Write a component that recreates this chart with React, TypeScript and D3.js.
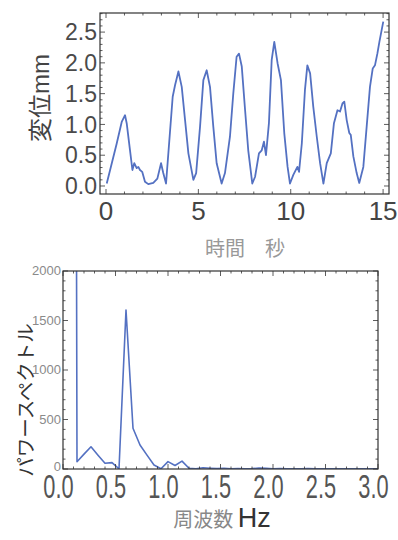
import React from "react";
import * as d3 from "d3";

// ---- top chart data: displacement (mm) vs time (s)
const timeS = [0.04,0.58,0.85,1.03,1.12,1.3,1.43,1.53,1.66,1.75,1.84,1.96,2.11,2.29,2.56,2.78,2.98,3.1,3.25,3.61,3.74,3.92,4.1,4.28,4.46,4.73,4.88,5.09,5.27,5.45,5.63,5.81,5.99,6.26,6.44,6.71,6.89,7.07,7.2,7.35,7.53,7.7,7.92,8.07,8.28,8.43,8.55,8.66,8.82,8.97,9.11,9.29,9.47,9.65,9.83,9.96,10.14,10.36,10.45,10.6,10.77,10.9,11.05,11.22,11.41,11.59,11.77,11.95,12.17,12.34,12.53,12.67,12.8,12.9,13.03,13.17,13.25,13.39,13.57,13.71,13.93,14.11,14.29,14.44,14.56,14.69,14.8,15.01];
const dispMm = [0.04,0.69,1.04,1.15,1.02,0.58,0.26,0.37,0.29,0.31,0.26,0.23,0.07,0.03,0.05,0.12,0.37,0.21,0.04,1.45,1.64,1.86,1.61,1.07,0.53,0.1,0.21,0.96,1.72,1.88,1.61,0.96,0.37,0.04,0.21,0.8,1.5,2.1,2.15,1.94,1.23,0.58,0.04,0.15,0.53,0.58,0.72,0.5,1.02,2.05,2.34,1.99,1.72,0.86,0.31,0.04,0.18,0.31,0.23,0.69,1.56,1.96,1.83,1.29,0.8,0.37,0.04,0.37,0.53,1.02,1.23,1.21,1.34,1.37,1.07,0.86,0.83,0.48,0.21,0.05,0.31,0.96,1.61,1.91,1.96,2.15,2.34,2.67];
const timeTicks = [0, 5, 10, 15];
const dispTicks = [0, 0.5, 1, 1.5, 2, 2.5];

// ---- bottom chart data: power spectrum, frequency step 1/15 Hz
const powerVals = [40000,30000,74,150,225,140,58,64,2,1606,411,242,140,40,3,74,35,80,8,3,12,8,4,6,3,5,2,4,10,6,3,4,2,3,2,5,2,3,2,2,3,2,2,3,2,2];
const freqStep = 1 / 15;
const freqTicks = [0, 0.5, 1, 1.5, 2, 2.5, 3];
const powerTicks = [0, 500, 1000, 1500, 2000];

const LINE = "#5471c2";

export default function App() {
  // top chart scales
  const tx = d3.scaleLinear().domain([-0.325, 15.32]).range([100, 389]);
  const ty = d3.scaleLinear().domain([-0.13, 2.81]).range([194, 13]);
  const topLine = d3.line<number>().x((_, i) => tx(timeS[i])).y((d) => ty(d));

  // bottom chart scales
  const bx = d3.scaleLinear().domain([0, 3]).range([63, 378]);
  const by = d3.scaleLinear().domain([0, 2000]).range([469, 271]);
  const botLine = d3.line<number>().x((_, i) => bx(i * freqStep)).y((d) => by(d));

  const topMinorX = d3.range(0, 16, 1).filter((v) => v % 5 !== 0);
  const topMinorY = d3.range(0, 2.81, 0.1).filter((v) => Math.abs(v * 2 - Math.round(v * 2)) > 1e-6);
  const botMinorX = d3.range(0, 3.0001, 0.1).filter((v) => Math.abs(v * 2 - Math.round(v * 2)) > 1e-6);
  const botMinorY = d3.range(0, 2001, 100).filter((v) => v % 500 !== 0);

  const frameTicks = (
    xs: d3.ScaleLinear<number, number>,
    ys: d3.ScaleLinear<number, number>,
    majX: number[], minX: number[], majY: number[], minY: number[]
  ) => {
    const [x0, x1] = xs.range();
    const [y0, y1] = ys.range();
    const out: React.ReactNode[] = [];
    const add = (list: number[], len: number, key: string) => {
      list.forEach((v, i) => {
        const x = xs(v);
        out.push(<line key={key + "b" + i} x1={x} x2={x} y1={y0} y2={y0 - len} />);
        out.push(<line key={key + "t" + i} x1={x} x2={x} y1={y1} y2={y1 + len} />);
      });
    };
    const addY = (list: number[], len: number, key: string) => {
      list.forEach((v, i) => {
        const y = ys(v);
        out.push(<line key={key + "l" + i} x1={x0} x2={x0 + len} y1={y} y2={y} />);
        out.push(<line key={key + "r" + i} x1={x1} x2={x1 - len} y1={y} y2={y} />);
      });
    };
    add(majX, 5, "mx");
    add(minX, 2.5, "nx");
    addY(majY, 5, "my");
    addY(minY, 2.5, "ny");
    return <g stroke="#333" strokeWidth={0.8}>{out}</g>;
  };

  const font = "Liberation Sans, Arial, sans-serif";
  const cjk = "Noto Sans CJK JP, sans-serif";

  return (
    <svg width={398} height={540} style={{ position: "absolute", left: 0, top: 0, background: "#fff" }}>
      <defs>
        <clipPath id="clipTop"><rect x={100} y={13} width={289} height={181} /></clipPath>
        <clipPath id="clipBot"><rect x={63} y={271} width={315} height={198} /></clipPath>
      </defs>
      <rect width={398} height={540} fill="#fff" />

      {/* ---------- top chart ---------- */}
      <path d={topLine(dispMm) || ""} fill="none" stroke={LINE} strokeWidth={1.8} clipPath="url(#clipTop)" strokeLinejoin="round" />
      <rect x={100} y={13} width={289} height={181} fill="none" stroke="#333" strokeWidth={1.2} />
      {frameTicks(tx, ty, timeTicks, topMinorX, dispTicks, topMinorY)}
      {dispTicks.map((v) => (
        <text key={"yt" + v} x={97} y={ty(v)} dy="0.36em" textAnchor="end" fontFamily={font} fontSize={23} fill="#4a4a4a">
          {v.toFixed(1)}
        </text>
      ))}
      {timeTicks.map((v) => (
        <text key={"xt" + v} x={tx(v)} y={220} textAnchor="middle" fontFamily={font} fontSize={26} fill="#444">
          {v}
        </text>
      ))}
      <text transform="translate(49,98) rotate(-90)" textAnchor="middle" fontSize={24} fill="#444">
        <tspan fontFamily={cjk}>変位</tspan><tspan fontFamily={font}>mm</tspan>
      </text>
      <text x={245} y={256} textAnchor="middle" fontFamily={cjk} fontSize={20} fill="#999">時間　秒</text>

      {/* ---------- bottom chart ---------- */}
      <path d={botLine(powerVals) || ""} fill="none" stroke={LINE} strokeWidth={1.6} clipPath="url(#clipBot)" strokeLinejoin="round" />
      <rect x={63} y={271} width={315} height={198} fill="none" stroke="#333" strokeWidth={1.2} />
      {frameTicks(bx, by, freqTicks, botMinorX, powerTicks, botMinorY)}
      {powerTicks.map((v) => (
        <text key={"pt" + v} x={61} y={by(v) - (v === 0 ? 2 : 0)} dy="0.34em" textAnchor="end" fontFamily={font} fontSize={13} fill="#8a8a8a">
          {v}
        </text>
      ))}
      {freqTicks.map((v) => (
        <text key={"ft" + v} transform={`translate(${bx(v) - 4.5},498) scale(0.66,1)`} textAnchor="middle" fontFamily={font} fontSize={33} fill="#555">
          {v.toFixed(1)}
        </text>
      ))}
      <text transform="translate(33,400) rotate(-90)" textAnchor="middle" fontFamily={cjk} fontSize={19.5} fill="#333">
        パワースペクトル
      </text>
      <text x={222} y={527} textAnchor="middle" fill="#888">
        <tspan fontFamily={cjk} fontSize={20}>周波数 </tspan>
        <tspan fontFamily={font} fontSize={27} fill="#333">Hz</tspan>
      </text>
    </svg>
  );
}
